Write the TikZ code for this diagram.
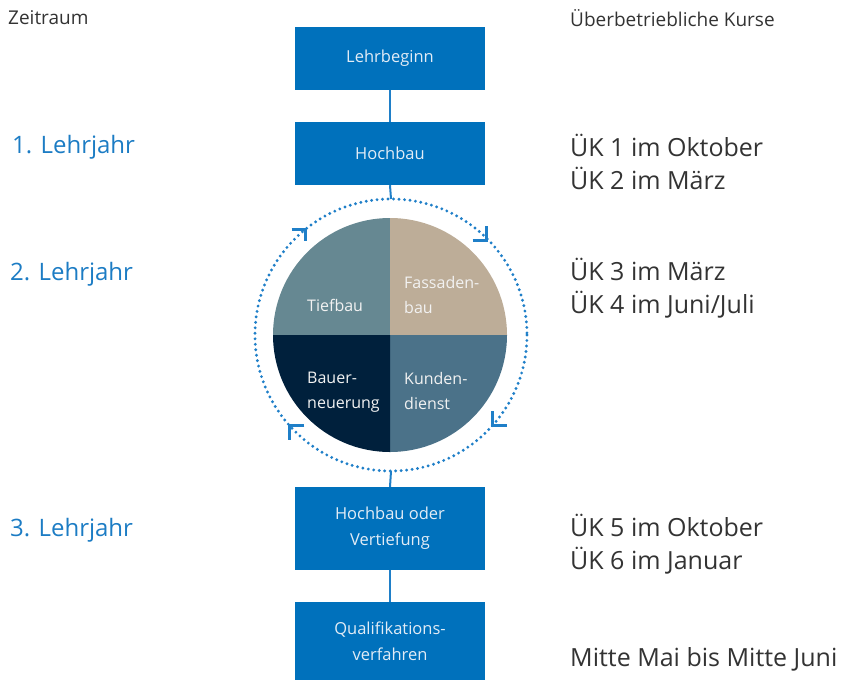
\documentclass[tikz,border=0pt]{standalone}
\usepackage{fontspec}
\setmainfont{Open Sans}
\usepackage{tikz}
\usetikzlibrary{positioning}

\definecolor{boxblue}{HTML}{0071BC}
\definecolor{boxtext}{HTML}{E2ECF6}
\definecolor{yearblue}{HTML}{1C7CC4}
\definecolor{ringblue}{HTML}{1F7FC8}
\definecolor{darktext}{HTML}{333333}
\definecolor{pieTief}{HTML}{668892}
\definecolor{pieFass}{HTML}{BDAD98}
\definecolor{pieBau}{HTML}{00203C}
\definecolor{pieKund}{HTML}{4B7289}

\begin{document}
\begin{tikzpicture}[x=1pt,y=-1pt,
    stage/.style={fill=boxblue, text=boxtext, minimum width=190pt, align=center,
      font=\fontsize{16.5}{26}\selectfont, inner sep=0pt},
    year/.style={anchor=west, text=yearblue, font=\fontsize{24}{33}\selectfont, inner sep=0pt},
    course/.style={anchor=west, text=darktext, align=left, font=\fontsize{25}{33}\selectfont, inner sep=0pt},
    head/.style={anchor=west, text=darktext, font=\fontsize{19}{20}\selectfont, inner sep=0pt},
    slice/.style={text=white!90!gray, align=left, font=\fontsize{16}{25}\selectfont, inner sep=0pt},
    link/.style={draw=ringblue, line width=2pt}]
    \useasboundingbox (0,0) rectangle (842,680);

    % Column heads
    \node[head] (zeit) at (8,18) {Zeitraum};
    \node[head] (uek) at (570,18) {Überbetriebliche Kurse};

    % Stages in the middle
    \node[stage, minimum height=63pt] (lehrbeginn) at (390,58.5) {Lehrbeginn};
    \node[stage, minimum height=63pt] (hochbau) at (390,153.5) {Hochbau};
    \node[stage, minimum height=83pt] (vertiefung) at (390,528.5) {Hochbau oder\\Vertiefung};
    \node[stage, minimum height=78pt] (qv) at (390,641) {Qualifikations-\\verfahren};

    % Pie with the four fields
    \coordinate (pie) at (390,335);
    \fill[pieTief] (pie) -- ++(180:117) arc[start angle=180, end angle=270, radius=117] -- cycle;
    \fill[pieFass] (pie) -- ++(270:117) arc[start angle=270, end angle=360, radius=117] -- cycle;
    \fill[pieKund] (pie) -- ++(0:117) arc[start angle=0, end angle=90, radius=117] -- cycle;
    \fill[pieBau] (pie) -- ++(90:117) arc[start angle=90, end angle=180, radius=117] -- cycle;
    \node[slice, anchor=west] (tiefbau) at (307,305) {Tiefbau};
    \node[slice, anchor=west] (fassade) at (404,295) {Fassaden-\\bau};
    \node[slice, anchor=west] (bauer) at (307,392) {Bauer-\\neuerung};
    \node[slice, anchor=west] (kunden) at (404,391) {Kunden-\\dienst};

    % Dotted ring with arrow corners
    \draw[ringblue, line width=3.2pt, line cap=round, dash pattern=on 0pt off 5.5pt] (391,335) circle (136);
    \coordinate (ringtop) at (391,199);
    \coordinate (ringbottom) at (391,471);
    \foreach \x/\y/\dx/\dy in {305.7/229/-14/12, 486.7/240/-14/-14, 492.7/425/14/-14, 289.3/425/15/15} {
      \draw[ringblue, line width=3pt] (\x+\dx,\y) -- (\x,\y) -- (\x,\y+\dy);
    }

    % Connectors
    \draw[link] (lehrbeginn.south) -- (hochbau.north);
    \draw[link] (hochbau.south) -- (ringtop);
    \draw[link] (ringbottom) -- (vertiefung.north);
    \draw[link] (vertiefung.south) -- (qv.north);

    % Years on the left
    \foreach \n/\x/\y/\t in {y1/12/147/1, y2/10/274/2, y3/10/530/3} {
      \node[year] (\n) at (\x,\y) {\t. Lehrjahr};
    }

    % Courses on the right
    \node[course] (k12) at (570,161.5) {ÜK 1 im Oktober\\ÜK 2 im März};
    \node[course] (k34) at (570,288) {ÜK 3 im März\\ÜK 4 im Juni/Juli};
    \node[course] (k56) at (570,544) {ÜK 5 im Oktober\\ÜK 6 im Januar};
    \node[course] (k7) at (570,659) {Mitte Mai bis Mitte Juni};
\end{tikzpicture}
\end{document}
